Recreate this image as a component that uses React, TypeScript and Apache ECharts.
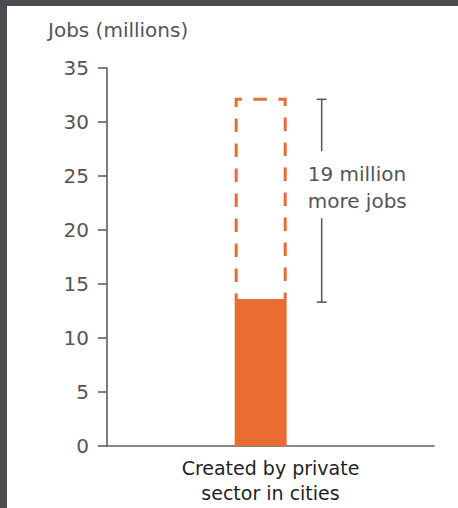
import React, { useEffect, useRef } from "react";
import * as echarts from "echarts";

// ---- data ----
const categories: string[] = ["Created by private\nsector in cities"];
const currentJobs: number[] = [13.6];
const projectedJobs: number[] = [32.1];
const increaseLabels: string[] = ["19 million\nmore jobs"];
const yTicks: number[] = [0, 5, 10, 15, 20, 25, 30, 35];
const yAxisTitle = "Jobs (millions)";

const FONT = "DejaVu Sans";
const ORANGE = "#e96d32";
const AXIS = "#606060";
const BAR_POS = 47; // position of the column along the 0-100 horizontal scale
const CAT_POS = 50;
const DASH = 13.5;
const GAP = 11.5;

export default function App() {
  const ref = useRef<HTMLDivElement>(null);
  useEffect(() => {
    if (!ref.current) return;
    const chart = echarts.init(ref.current, undefined, { renderer: "svg" });
    const barData = currentJobs.map((v) => [BAR_POS, v]);
    const boxData = currentJobs.map((v, i) => [BAR_POS, v, projectedJobs[i], i]);
    chart.setOption({
      animation: false,
      backgroundColor: "#ffffff",
      title: {
        text: yAxisTitle,
        left: 43,
        top: 15,
        textStyle: { fontFamily: FONT, fontSize: 20, fontWeight: "normal", color: "#555" },
      },
      grid: { left: 107, right: 24, top: 68, bottom: 62, containLabel: false },
      xAxis: {
        type: "value",
        min: 0,
        max: 100,
        interval: 50,
        axisLine: { show: true, lineStyle: { color: AXIS, width: 1.6 } },
        axisTick: { show: false },
        splitLine: { show: false },
        axisLabel: {
          formatter: (v: number) => (v === CAT_POS ? categories[0] : ""),
          color: "#1f1f1f",
          fontFamily: FONT,
          fontSize: 19,
          lineHeight: 25,
          margin: 9,
        },
      },
      yAxis: {
        type: "value",
        min: yTicks[0],
        max: yTicks[yTicks.length - 1],
        interval: yTicks[1] - yTicks[0],
        axisLine: { show: true, lineStyle: { color: AXIS, width: 1.6 } },
        axisTick: { show: true, length: 9, lineStyle: { color: AXIS, width: 1.6 } },
        splitLine: { show: false },
        axisLabel: { color: "#555", fontFamily: FONT, fontSize: 20, margin: 18 },
      },
      graphic: [
        { type: "rect", shape: { x: 0, y: 0, width: 7, height: 508 }, style: { fill: "#4b4c50" }, z: 100 },
        { type: "rect", shape: { x: 0, y: 0, width: 458, height: 6 }, style: { fill: "#4b4c50" }, z: 100 },
      ],
      series: [
        {
          type: "bar",
          data: barData,
          barWidth: 52,
          itemStyle: { color: ORANGE },
          z: 2,
        },
        {
          type: "custom",
          data: boxData,
          encode: { x: 0, y: [1, 2] },
          z: 3,
          renderItem: (params: any, api: any) => {
            const lo = api.coord([api.value(0), api.value(1)]);
            const hi = api.coord([api.value(0), api.value(2)]);
            const idx = api.value(3);
            const cx = lo[0];
            const w = 49;
            const l = cx - w / 2;
            const r = cx + w / 2;
            const H = lo[1] - hi[1];
            const period = DASH + GAP;
            const offset = (((7.5 - H) % period) + period) % period;
            const bx = cx + 61;
            const tc = hi[1] + 0.44 * (lo[1] - hi[1]);
            const lineStyle = { stroke: "#555", lineWidth: 1.5 };
            return {
              type: "group",
              children: [
                {
                  type: "polyline",
                  shape: { points: [[l, lo[1]], [l, hi[1]], [r, hi[1]], [r, lo[1]]] },
                  style: {
                    fill: "none",
                    stroke: ORANGE,
                    lineWidth: 3,
                    lineDash: [DASH, GAP],
                    lineDashOffset: offset,
                    lineJoin: "miter",
                  },
                },
                { type: "line", shape: { x1: bx, y1: hi[1], x2: bx, y2: tc - 36 }, style: lineStyle },
                { type: "line", shape: { x1: bx - 5, y1: hi[1], x2: bx + 5, y2: hi[1] }, style: lineStyle },
                { type: "line", shape: { x1: bx, y1: tc + 31, x2: bx, y2: lo[1] + 3 }, style: lineStyle },
                { type: "line", shape: { x1: bx - 5, y1: lo[1] + 3, x2: bx + 5, y2: lo[1] + 3 }, style: lineStyle },
                {
                  type: "text",
                  x: bx - 14,
                  y: tc,
                  style: {
                    text: increaseLabels[idx],
                    fill: "#555",
                    fontFamily: FONT,
                    fontSize: 20,
                    lineHeight: 27,
                    align: "left",
                    verticalAlign: "middle",
                  },
                },
              ],
            };
          },
        },
      ],
    });
    return () => chart.dispose();
  }, []);
  return (
    <div
      ref={ref}
      style={{ position: "absolute", left: 0, top: 0, width: 458, height: 508, background: "#fff" }}
    />
  );
}
